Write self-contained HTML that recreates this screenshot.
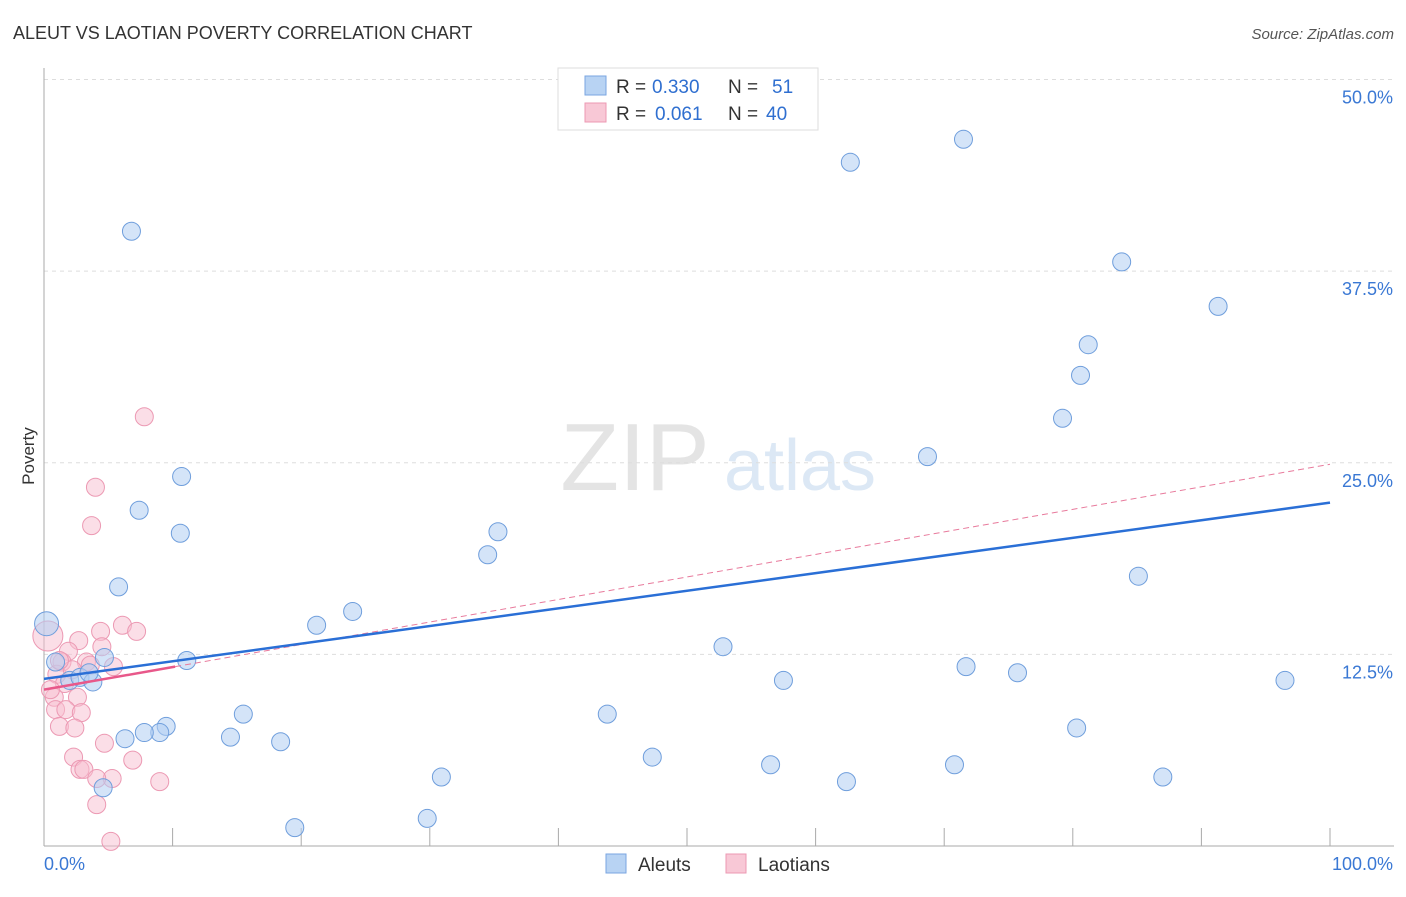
<!DOCTYPE html>
<html><head><meta charset="utf-8"><style>
body{margin:0;background:#fff;font-family:"Liberation Sans",sans-serif;}
svg text{font-family:"Liberation Sans",sans-serif;}
</style></head><body>
<svg width="1406" height="892">
<text x="13" y="39" font-size="18" fill="#333">ALEUT VS LAOTIAN POVERTY CORRELATION CHART</text>
<text x="1394" y="39" font-size="15" fill="#555" text-anchor="end" font-style="italic">Source: ZipAtlas.com</text>
<text x="34" y="456" font-size="17" fill="#333" transform="rotate(-90 34 456)" text-anchor="middle">Poverty</text>
<g><text x="635" y="490" font-size="96" fill="#e4e4e4" text-anchor="middle" font-family="Liberation Serif">ZIP</text><text x="800" y="490" font-size="72" fill="#dce8f5" text-anchor="middle">atlas</text></g>
<g id="grid"></g><g id="axes"></g><g id="marks"></g>
<g>
<rect x="558" y="68" width="260" height="62" fill="#fff" stroke="#ddd"/>
<rect x="585" y="76" width="21" height="19" fill="#b8d3f3" stroke="#7aa6e0"/>
<rect x="585" y="103" width="21" height="19" fill="#f8c8d6" stroke="#ec99b3"/>
<text x="616" y="93" font-size="19" fill="#333">R =</text>
<text x="652" y="93" font-size="19" fill="#2f6fd0">0.330</text>
<text x="728" y="93" font-size="19" fill="#333">N =</text>
<text x="772" y="93" font-size="19" fill="#2f6fd0">51</text>
<text x="616" y="120" font-size="19" fill="#333">R =</text>
<text x="655" y="120" font-size="19" fill="#2f6fd0">0.061</text>
<text x="728" y="120" font-size="19" fill="#333">N =</text>
<text x="766" y="120" font-size="19" fill="#2f6fd0">40</text>
</g>
<g>
<rect x="606" y="854" width="20" height="19" fill="#b8d3f3" stroke="#7aa6e0"/>
<text x="638" y="871" font-size="19" fill="#333">Aleuts</text>
<rect x="726" y="854" width="20" height="19" fill="#f8c8d6" stroke="#ec99b3"/>
<text x="758" y="871" font-size="19" fill="#333">Laotians</text>
</g>
</svg>
<script>
const yTicks=[12.5,25,37.5,50];
const yTickLabels=["12.5%","25.0%","37.5%","50.0%"];
const aleutX=[6.8,62.7,71.5,83.8,91.3,81.2,80.6,79.2,68.7,10.7,7.4,10.6,35.3,34.5,85.1,5.8,24.0,21.2,0.2,52.8,11.1,4.7,0.9,71.7,75.7,57.5,96.5,2.0,2.8,3.8,3.5,43.8,15.5,9.5,9.0,7.8,6.3,14.5,18.4,80.3,47.3,56.5,70.8,30.9,87.0,62.4,4.6,19.5,29.8];
const aleutY=[40.1,44.6,46.1,38.1,35.2,32.7,30.7,27.9,25.4,24.1,21.9,20.4,20.5,19.0,17.6,16.9,15.3,14.4,14.5,13.0,12.1,12.3,12.0,11.7,11.3,10.8,10.8,10.8,11.0,10.7,11.3,8.6,8.6,7.8,7.4,7.4,7.0,7.1,6.8,7.7,5.8,5.3,5.3,4.5,4.5,4.2,3.8,1.2,1.8];
const laoX=[7.8,4.0,3.7,6.1,7.2,4.4,2.7,4.5,0.3,1.9,1.4,3.3,5.4,1.0,2.2,1.6,0.8,2.6,0.9,1.7,2.9,1.2,2.4,4.7,2.3,6.9,2.8,3.1,5.3,4.1,9.0,4.1,5.2,3.6,1.2,0.5];
const laoY=[28.0,23.4,20.9,14.4,14.0,14.0,13.4,13.0,13.7,12.7,12.0,12.0,11.7,11.2,11.5,10.6,9.7,9.7,8.9,8.9,8.7,7.8,7.7,6.7,5.8,5.6,5.0,5.0,4.4,4.4,4.2,2.7,0.3,11.8,12.1,10.2];
const aleutTrend=[10.9,22.4];
const laoTrend=[10.2,24.9];
const NS="http://www.w3.org/2000/svg";
const X=v=>44+v*12.86, Y=v=>846-v*15.33;
function mk(t,a,p){const e=document.createElementNS(NS,t);for(const k in a)e.setAttribute(k,a[k]);p.appendChild(e);return e;}
const grid=document.getElementById('grid'),axes=document.getElementById('axes'),marks=document.getElementById('marks');
yTicks.forEach((t,i)=>{
 const l=mk('line',{x1:44,x2:1394,y1:Y(t),y2:Y(t),stroke:'#ddd','stroke-dasharray':'4,4'},grid);
 
 
 const tx=mk('text',{x:1393,y:Y(t)+24,'font-size':18,fill:'#3a78d4','text-anchor':'end'},axes);
 tx.textContent=yTickLabels[i];
 
 
});
mk('line',{x1:44,x2:44,y1:68,y2:846,stroke:'#aaa'},axes);
mk('line',{x1:44,x2:1394,y1:846,y2:846,stroke:'#aaa'},axes);
for(let i=1;i<=10;i++){const t=mk('line',{x1:X(i*10),x2:X(i*10),y1:828,y2:846,stroke:'#aaa'},axes);}
const x0=mk('text',{x:44,y:870,'font-size':18,fill:'#3a78d4'},axes);x0.textContent='0.0%';


const x1=mk('text',{x:1393,y:870,'font-size':18,fill:'#3a78d4','text-anchor':'end'},axes);x1.textContent='100.0%';


laoX.forEach((v,i)=>{const r=(i==8)?15:9;const c=mk('circle',{cx:X(v),cy:Y(laoY[i]),r:r,fill:'rgba(248,190,208,0.5)',stroke:'#ec99b3','stroke-width':1},marks);
 
 });
aleutX.forEach((v,i)=>{const r=(i==18)?12:9;const c=mk('circle',{cx:X(v),cy:Y(aleutY[i]),r:r,fill:'rgba(176,205,242,0.55)',stroke:'#6f9edc','stroke-width':1},marks);
 
 });
const ld=mk('line',{x1:X(10.2),y1:Y(laoTrend[0]+(laoTrend[1]-laoTrend[0])*0.102),x2:X(100),y2:Y(laoTrend[1]),stroke:'#e87a9c','stroke-dasharray':'6,4','stroke-width':1},marks);


const ls=mk('line',{x1:X(0),y1:Y(laoTrend[0]),x2:X(10.2),y2:Y(laoTrend[0]+(laoTrend[1]-laoTrend[0])*0.102),stroke:'#e8588a','stroke-width':2.5},marks);


const ab=mk('line',{x1:X(0),y1:Y(aleutTrend[0]),x2:X(100),y2:Y(aleutTrend[1]),stroke:'#2a6fd6','stroke-width':2.5},marks);


</script>
</body></html>
